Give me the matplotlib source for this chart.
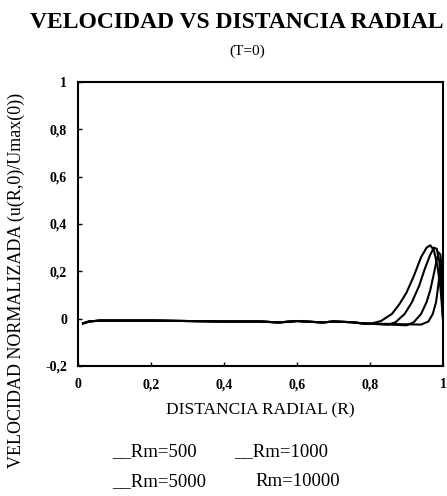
import numpy as np
import matplotlib
matplotlib.use("Agg")
import matplotlib.pyplot as plt

plt.rcParams['font.family'] = ['Liberation Serif', 'DejaVu Serif']

base_x = [0.014, 0.03, 0.06, 0.1, 0.2, 0.3, 0.4, 0.5, 0.55, 0.6, 0.67, 0.7, 0.75]
base_y = [-0.02, -0.012, -0.008, -0.008, -0.008, -0.01, -0.012, -0.012, -0.016, -0.01, -0.016, -0.012, -0.015]

# tail of each curve near the wall
rm500_x = [0.78, 0.80, 0.83, 0.86, 0.88, 0.90, 0.92, 0.94, 0.955, 0.965, 0.975, 0.985, 0.993, 1.0]
rm500_y = [-0.02, -0.022, -0.01, 0.02, 0.06, 0.11, 0.18, 0.26, 0.30, 0.31, 0.29, 0.22, 0.13, 0.0]

rm1000_x = [0.78, 0.85, 0.87, 0.895, 0.915, 0.935, 0.95, 0.965, 0.975, 0.983, 0.99, 0.996, 1.0]
rm1000_y = [-0.02, -0.025, -0.015, 0.02, 0.07, 0.14, 0.21, 0.27, 0.30, 0.295, 0.24, 0.13, 0.0]

rm5000_x = [0.78, 0.90, 0.92, 0.94, 0.955, 0.965, 0.975, 0.983, 0.988, 0.993, 0.997, 1.0]
rm5000_y = [-0.02, -0.028, -0.015, 0.02, 0.07, 0.12, 0.19, 0.25, 0.28, 0.27, 0.19, 0.0]

rm10000_x = [0.78, 0.94, 0.96, 0.972, 0.981, 0.987, 0.992, 0.996, 0.998, 1.0]
rm10000_y = [-0.02, -0.025, -0.012, 0.02, 0.07, 0.14, 0.21, 0.25, 0.2, 0.0]

labels = ["Rm=500", "Rm=1000", "Rm=5000", "Rm=10000"]
xticks = [0, 0.2, 0.4, 0.6, 0.8, 1]
yticks = [-0.2, 0, 0.2, 0.4, 0.6, 0.8, 1]

series = [(rm500_x, rm500_y), (rm1000_x, rm1000_y),
          (rm5000_x, rm5000_y), (rm10000_x, rm10000_y)]

W, H = 447, 496
fig = plt.figure(figsize=(W / 100, H / 100), dpi=100)
ax = fig.add_axes([78 / W, 1 - 366 / H, 365 / W, 284 / H])

for sx, sy in series:
    ax.plot(base_x + sx, base_y + sy, color='black', lw=1.5)

ax.set_xlim(0, 1)
ax.set_ylim(-0.2, 1)
ax.set_xticks(xticks)
ax.set_yticks(yticks)
ax.set_xticklabels([f"{t:g}".replace('.', ',') for t in xticks], fontweight='bold', fontsize=10)
ax.set_yticklabels([f"{t:g}".replace('.', ',') for t in yticks], fontweight='bold', fontsize=10)
ax.tick_params(direction='in', length=3, width=1)
ax.tick_params(axis='y', pad=8)
ax.tick_params(axis='x', pad=9)
for s in ax.spines.values():
    s.set_linewidth(1.5)

ax.set_xlabel("DISTANCIA RADIAL (R)", fontsize=12.5, labelpad=8)
fig.text(16 / W, 1 - 280 / H, "VELOCIDAD NORMALIZADA (u(R,0)/Umax(0))",
         fontsize=13, rotation=90, ha='center', va='center')

fig.text(237 / W, 1 - 22 / H, "VELOCIDAD VS DISTANCIA RADIAL",
         fontsize=17, fontweight='bold', ha='center', va='center')
fig.text(247 / W, 1 - 51 / H, "(T=0)", fontsize=11, ha='center', va='center')

# legend written as text, two per row
pos = [(112, 452), (234, 452), (112, 482), (255, 482)]
for i, (lab, (px, py)) in enumerate(zip(labels, pos)):
    prefix = "__" if i < 3 else ""
    fig.text(px / W, 1 - py / H, prefix + lab, fontsize=13.5,
             ha='left', va='center')

fig.savefig("out.png", dpi=100)
